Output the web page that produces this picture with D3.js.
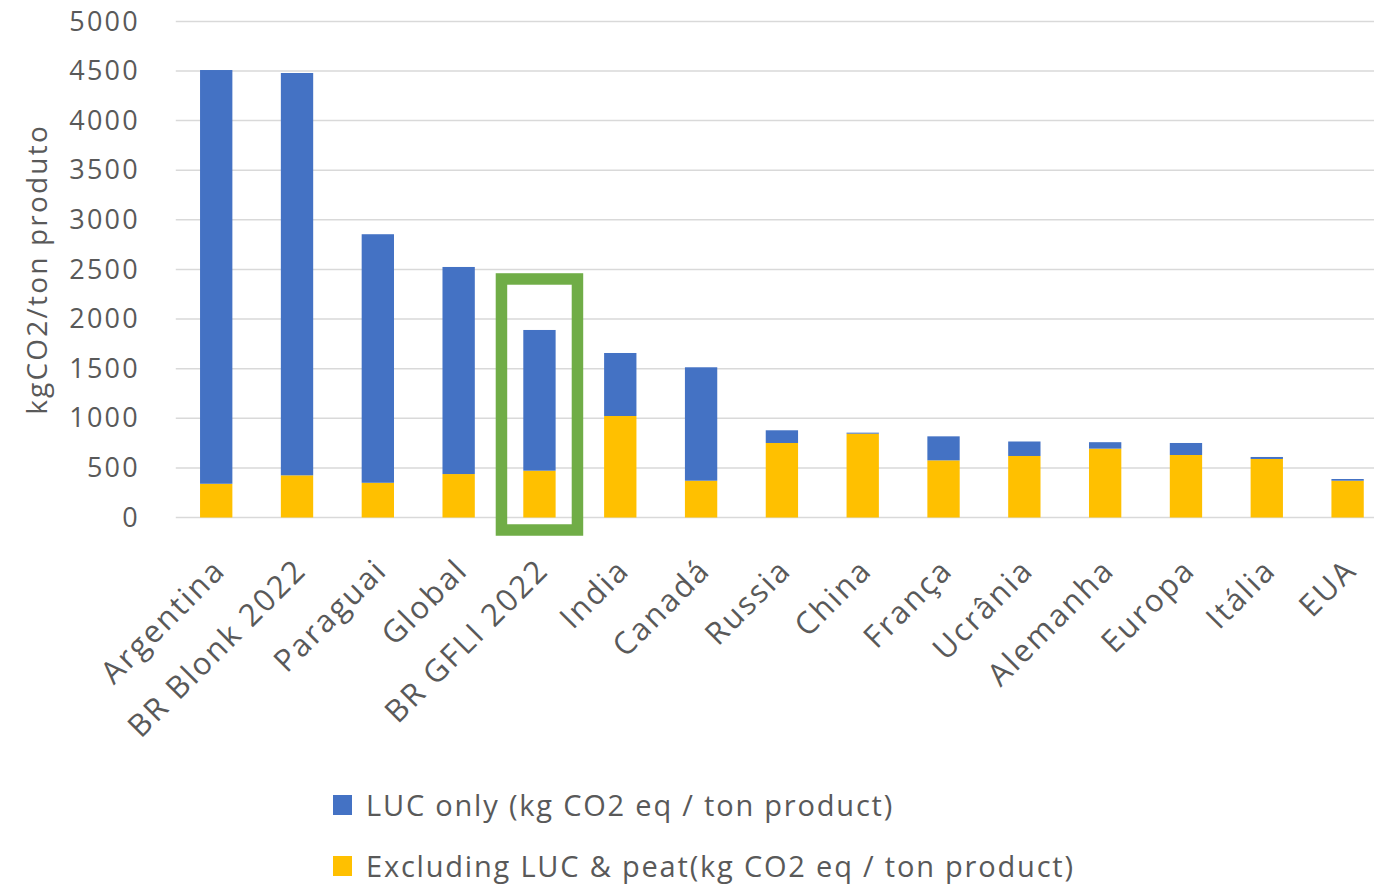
<!DOCTYPE html>
<meta charset='utf-8'>
<html>
    <head>
        <script src="https://d3js.org/d3.v7.min.js" charset="utf-8"></script>
        <style>
            body { margin: 0; background: #fff; }
            text { font-family: "Open Sans", sans-serif; fill: #595959; }
        </style>
    </head>
    <body>
        <div id="chart-container"></div>
        <script>
            // categories and the two stacked series (kg CO2 eq / ton)
            const countries = ['Argentina', 'BR Blonk 2022', 'Paraguai', 'Global', 'BR GFLI 2022', 'India',
                'Canadá', 'Russia', 'China', 'França', 'Ucrânia', 'Alemanha', 'Europa', 'Itália', 'EUA'];
            const excludingLuc = [340, 425, 350, 438, 472, 1023, 371, 751, 845, 576, 620, 694, 630, 590, 371];
            const lucOnly = [4170, 4055, 2505, 2087, 1418, 635, 1143, 128, 10, 242, 146, 65, 121, 20, 17];
            const yTicks = [0, 500, 1000, 1500, 2000, 2500, 3000, 3500, 4000, 4500, 5000];
            const seriesNames = ['LUC only (kg CO2 eq / ton product)', 'Excluding LUC & peat(kg CO2 eq / ton product)'];
            const highlighted = 'BR GFLI 2022';

            const svgWidth = 1374;
            const svgHeight = 886;

            // plot area (right edge runs past the picture, as in the original crop)
            const margin = {top: 21.4, left: 175.8, bottom: 368.5};
            const plotRight = 1388;
            const h = svgHeight - margin.top - margin.bottom;

            const svg = d3.select('#chart-container')
                .append('svg')
                .attr('width', svgWidth)
                .attr('height', svgHeight);

            const xScale = d3.scaleBand()
                .domain(countries)
                .range([margin.left, plotRight])
                .paddingInner(0.6)
                .paddingOuter(0.3);

            const yScale = d3.scaleLinear()
                .domain([0, 5000])
                .range([margin.top + h, margin.top]);

            // gridlines
            svg.append('g')
                .selectAll('line')
                .data(yTicks)
                .enter().append('line')
                .attr('x1', margin.left)
                .attr('x2', plotRight)
                .attr('y1', d => yScale(d))
                .attr('y2', d => yScale(d))
                .attr('stroke', '#d9d9d9')
                .attr('stroke-width', 1.5);

            // y axis labels only
            const yAxis = svg.append('g')
                .attr('transform', 'translate(' + margin.left + ',0)')
                .call(d3.axisLeft(yScale).tickValues(yTicks).tickFormat(d3.format('d')).tickSize(0).tickPadding(36));
            yAxis.select('.domain').remove();
            yAxis.selectAll('text')
                .style('font-family', '"Open Sans", sans-serif')
                .style('font-size', '27px')
                .style('letter-spacing', '2.2px')
                .attr('fill', '#595959');

            svg.append('text')
                .attr('transform', 'translate(47,' + (margin.top + h / 2) + ') rotate(-90)')
                .attr('text-anchor', 'middle')
                .style('font-size', '28px')
                .style('letter-spacing', '2.2px')
                .text('kgCO2/ton produto');

            // stacked bars
            const rows = countries.map((c, i) => ({country: c, base: excludingLuc[i], luc: lucOnly[i]}));
            const stack = d3.stack().keys(['base', 'luc'])(rows);
            const colours = {base: '#ffc000', luc: '#4472c4'};

            svg.append('g')
                .selectAll('g')
                .data(stack)
                .enter().append('g')
                .attr('fill', d => colours[d.key])
                .selectAll('rect')
                .data(d => d)
                .enter().append('rect')
                .attr('x', d => xScale(d.data.country))
                .attr('width', xScale.bandwidth())
                .attr('y', d => yScale(d[1]))
                .attr('height', d => yScale(d[0]) - yScale(d[1]));

            // x labels rotated -45
            svg.append('g')
                .selectAll('text')
                .data(countries)
                .enter().append('text')
                .attr('text-anchor', 'end')
                .attr('transform', d => 'translate(' + (xScale(d) + xScale.bandwidth() / 2 + 11) + ',572) rotate(-45)')
                .style('font-size', '31px')
                .style('letter-spacing', '2.2px')
                .text(d => d);

            // green highlight box around BR GFLI 2022
            const boxTop = 2404;
            const boxBottom = -126;
            svg.append('rect')
                .attr('x', xScale(highlighted) + xScale.bandwidth() / 2 - 38)
                .attr('width', 76)
                .attr('y', yScale(boxTop))
                .attr('height', yScale(boxBottom) - yScale(boxTop))
                .attr('fill', 'none')
                .attr('stroke', '#70ad47')
                .attr('stroke-width', 11.5);

            // legend
            const legend = svg.append('g')
                .selectAll('g')
                .data(seriesNames)
                .enter().append('g')
                .attr('transform', (d, i) => 'translate(333,' + (795 + i * 61) + ')');
            legend.append('rect')
                .attr('width', 19)
                .attr('height', 20)
                .attr('fill', (d, i) => i === 0 ? colours.luc : colours.base);
            legend.append('text')
                .attr('x', 33)
                .attr('y', 21)
                .style('font-size', '29px')
                .style('letter-spacing', '1.8px')
                .text(d => d);
        </script>
    </body>
</html>
